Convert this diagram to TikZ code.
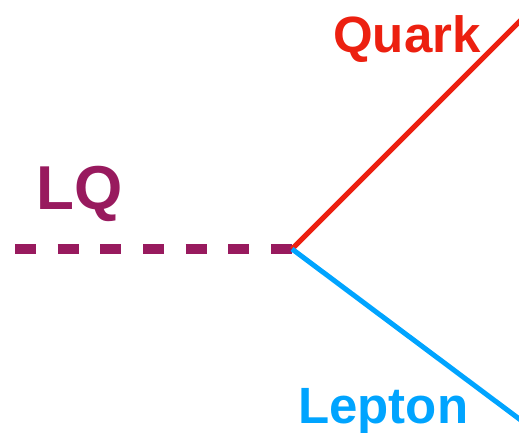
\documentclass[tikz,border=0pt]{standalone}
\usepackage{fontspec}
\setmainfont{Liberation Sans}
\usetikzlibrary{positioning, calc}
\definecolor{lqpurple}{RGB}{152,26,94}
\definecolor{quarkred}{RGB}{236,32,16}
\definecolor{leptonblue}{RGB}{0,164,255}
\begin{document}
\begin{tikzpicture}[
    x=1pt, y=-1pt,
    label/.style={anchor=base west, inner sep=0pt, font=\bfseries\fontsize{51}{51}\selectfont},
    leg/.style={line width=5pt}
]
    \useasboundingbox (0,0) rectangle (519,432);

    % --- vertex and line ends ---
    \coordinate (vtx) at (292,249);
    \coordinate (lqin) at (15,249);
    \coordinate (qout) at (522,19);
    \coordinate (lout) at (522,421);

    % --- lines ---
    \draw[lqpurple, line width=10pt, dash pattern=on 21pt off 21.67pt] (lqin) -- (vtx);
    \draw[leg, quarkred] (vtx) -- (qout);
    \draw[leg, leptonblue] (vtx) -- (lout);

    % --- labels ---
    \node[label, lqpurple, font=\bfseries\fontsize{62}{62}\selectfont] (lq) at (36,209) {LQ};
    \node[label, quarkred] (quark) at (333,52) {Quark};
    \node[label, leptonblue] (lepton) at (298,423) {Lepton};
\end{tikzpicture}
\end{document}
